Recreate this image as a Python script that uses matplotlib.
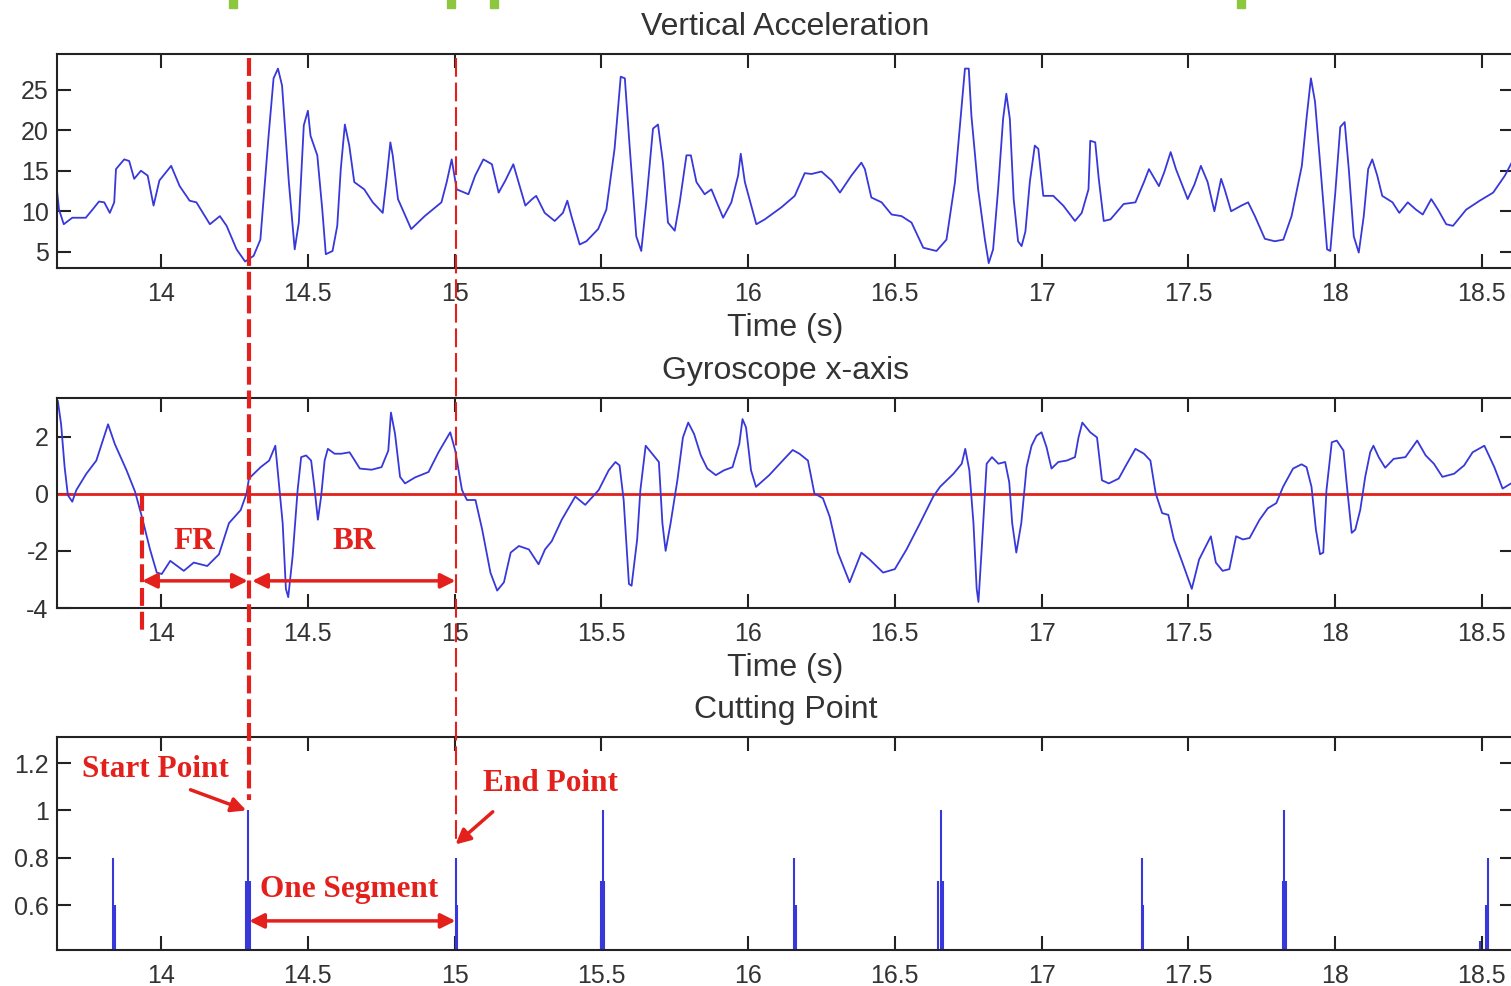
import matplotlib.pyplot as plt
import matplotlib.transforms as mtransforms
from matplotlib.lines import Line2D
from matplotlib.patches import Rectangle

plt.rcParams["font.family"] = ["Liberation Sans", "DejaVu Sans"]
plt.rcParams["axes.unicode_minus"] = False

# vertical acceleration (time in s, value)
acc_t = [13.642, 13.652, 13.668, 13.697, 13.743, 13.766, 13.788, 13.806, 13.825, 13.840,
         13.846, 13.874, 13.891, 13.908, 13.931, 13.954, 13.974, 13.994, 14.034, 14.063,
         14.097, 14.120, 14.166, 14.200, 14.223, 14.257, 14.286, 14.315, 14.338, 14.366,
         14.383, 14.398, 14.412, 14.435, 14.455, 14.469, 14.486, 14.500, 14.509, 14.532,
         14.549, 14.561, 14.584, 14.600, 14.612, 14.626, 14.641, 14.658, 14.692, 14.721,
         14.755, 14.767, 14.781, 14.789, 14.807, 14.852, 14.898, 14.955, 14.973, 14.990,
         15.007, 15.047, 15.070, 15.098, 15.127, 15.150, 15.173, 15.200, 15.241, 15.264,
         15.278, 15.307, 15.341, 15.369, 15.384, 15.398, 15.426, 15.449, 15.489, 15.517,
         15.545, 15.566, 15.580, 15.597, 15.619, 15.636, 15.653, 15.676, 15.693, 15.710,
         15.727, 15.750, 15.767, 15.790, 15.805, 15.824, 15.852, 15.875, 15.915, 15.943,
         15.966, 15.975, 15.989, 16.028, 16.057, 16.114, 16.159, 16.193, 16.216, 16.250,
         16.284, 16.313, 16.352, 16.386, 16.398, 16.420, 16.455, 16.489, 16.523, 16.557,
         16.597, 16.642, 16.676, 16.705, 16.727, 16.739, 16.752, 16.761, 16.784, 16.807,
         16.820, 16.835, 16.852, 16.869, 16.880, 16.892, 16.905, 16.920, 16.932, 16.945,
         16.960, 16.977, 16.989, 17.006, 17.040, 17.074, 17.114, 17.137, 17.160, 17.166,
         17.183, 17.195, 17.212, 17.235, 17.280, 17.320, 17.349, 17.366, 17.400, 17.418,
         17.440, 17.458, 17.498, 17.521, 17.543, 17.566, 17.589, 17.612, 17.624, 17.646,
         17.681, 17.704, 17.727, 17.761, 17.795, 17.824, 17.852, 17.887, 17.904, 17.918,
         17.932, 17.950, 17.973, 17.984, 18.001, 18.018, 18.033, 18.047, 18.064, 18.081,
         18.098, 18.113, 18.127, 18.144, 18.161, 18.196, 18.219, 18.248, 18.276, 18.299,
         18.328, 18.351, 18.379, 18.402, 18.447, 18.493, 18.539, 18.579, 18.608]
acc_v = [13.5, 10.2, 8.4, 9.2, 9.2, 10.2, 11.2, 11.1, 9.8, 11.1,
         15.2, 16.4, 16.2, 14.0, 15.0, 14.4, 10.7, 13.8, 15.6, 13.1,
         11.3, 11.1, 8.4, 9.4, 8.2, 5.3, 3.8, 4.5, 6.5, 19.3,
         26.4, 27.6, 25.5, 13.6, 5.3, 8.6, 20.6, 22.4, 19.3, 16.9,
         10.2, 4.7, 5.1, 8.2, 15.2, 20.7, 18.1, 13.6, 12.7, 11.1,
         9.8, 13.6, 18.5, 16.9, 11.5, 7.8, 9.4, 11.1, 13.6, 16.4,
         12.7, 12.1, 14.4, 16.4, 15.8, 12.3, 13.8, 15.8, 10.7, 11.5,
         11.9, 9.8, 8.8, 9.8, 11.3, 9.4, 5.9, 6.3, 7.8, 10.2,
         17.7, 26.6, 26.4, 17.7, 6.9, 5.1, 11.1, 20.2, 20.7, 16.0,
         8.6, 7.6, 11.1, 16.9, 16.9, 13.6, 12.1, 12.7, 9.2, 11.1,
         14.4, 17.1, 13.6, 8.4, 9.0, 10.5, 11.9, 14.7, 14.6, 14.9,
         13.8, 12.3, 14.4, 16.0, 15.2, 11.7, 11.1, 9.6, 9.4, 8.6,
         5.5, 5.1, 6.5, 13.6, 22.6, 27.6, 27.6, 21.8, 12.7, 6.5,
         3.6, 5.3, 12.7, 21.4, 24.5, 21.4, 11.5, 6.3, 5.7, 7.5,
         13.6, 18.1, 17.7, 11.9, 11.9, 10.7, 8.8, 9.8, 12.7, 18.7,
         18.5, 14.0, 8.8, 9.0, 10.9, 11.1, 13.6, 15.2, 13.1, 14.8,
         17.3, 15.2, 11.5, 13.3, 15.6, 13.6, 10.0, 14.0, 12.7, 10.0,
         10.7, 11.1, 9.4, 6.6, 6.3, 6.5, 9.4, 15.6, 21.8, 26.4,
         23.5, 15.6, 5.3, 5.1, 12.3, 20.4, 21.0, 15.2, 6.9, 4.9,
         9.4, 15.2, 16.4, 14.4, 11.9, 11.1, 9.8, 11.1, 10.2, 9.6,
         11.5, 10.2, 8.4, 8.2, 10.2, 11.3, 12.3, 14.4, 16.4]

# gyroscope x-axis
gyro_t = [13.648, 13.659, 13.671, 13.682, 13.697, 13.711, 13.745, 13.779, 13.819, 13.842,
          13.882, 13.911, 13.934, 13.962, 13.985, 14.002, 14.031, 14.077, 14.111, 14.157,
          14.197, 14.231, 14.271, 14.291, 14.299, 14.339, 14.368, 14.389, 14.397, 14.414,
          14.425, 14.433, 14.448, 14.465, 14.477, 14.494, 14.511, 14.522, 14.534, 14.545,
          14.557, 14.568, 14.591, 14.614, 14.642, 14.677, 14.717, 14.751, 14.774, 14.783,
          14.797, 14.814, 14.831, 14.865, 14.911, 14.945, 14.985, 15.002, 15.025, 15.042,
          15.071, 15.094, 15.122, 15.145, 15.168, 15.191, 15.219, 15.253, 15.286, 15.308,
          15.331, 15.365, 15.411, 15.445, 15.491, 15.525, 15.548, 15.562, 15.576, 15.594,
          15.603, 15.622, 15.633, 15.651, 15.673, 15.696, 15.708, 15.719, 15.736, 15.759,
          15.778, 15.796, 15.816, 15.839, 15.861, 15.890, 15.918, 15.947, 15.970, 15.981,
          15.993, 16.010, 16.027, 16.072, 16.118, 16.152, 16.175, 16.204, 16.226, 16.255,
          16.278, 16.306, 16.346, 16.386, 16.414, 16.460, 16.500, 16.540, 16.586, 16.631,
          16.654, 16.700, 16.728, 16.740, 16.754, 16.768, 16.779, 16.785, 16.796, 16.813,
          16.831, 16.853, 16.876, 16.890, 16.900, 16.914, 16.931, 16.949, 16.966, 16.983,
          17.000, 17.017, 17.034, 17.057, 17.086, 17.114, 17.126, 17.139, 17.166, 17.189,
          17.206, 17.229, 17.263, 17.291, 17.320, 17.349, 17.371, 17.389, 17.411, 17.432,
          17.451, 17.480, 17.512, 17.537, 17.577, 17.594, 17.617, 17.640, 17.663, 17.686,
          17.709, 17.743, 17.771, 17.800, 17.823, 17.857, 17.886, 17.903, 17.920, 17.935,
          17.949, 17.960, 17.971, 17.989, 18.006, 18.029, 18.042, 18.057, 18.069, 18.086,
          18.103, 18.120, 18.131, 18.149, 18.171, 18.200, 18.240, 18.280, 18.309, 18.337,
          18.366, 18.406, 18.440, 18.469, 18.509, 18.543, 18.571, 18.600]
gyro_v = [3.24, 2.43, 0.93, -0.05, -0.28, 0.13, 0.70, 1.16, 2.43, 1.74,
          0.82, 0.07, -0.80, -1.95, -2.76, -2.81, -2.35, -2.70, -2.41, -2.53,
          -2.12, -1.03, -0.57, 0.01, 0.53, 0.93, 1.16, 1.68, 0.82, -1.03,
          -3.33, -3.62, -2.18, 0.13, 1.28, 1.34, 1.16, 0.24, -0.91, -0.10,
          1.16, 1.57, 1.40, 1.40, 1.45, 0.88, 0.84, 0.93, 1.51, 2.84,
          2.09, 0.59, 0.36, 0.57, 0.76, 1.45, 2.15, 1.51, 0.13, -0.22,
          -0.22, -1.26, -2.76, -3.39, -3.10, -2.06, -1.83, -1.95, -2.47, -1.95,
          -1.66, -0.91, -0.10, -0.39, 0.13, 0.82, 1.11, 0.99, -0.22, -3.16,
          -3.22, -1.60, 0.13, 1.68, 1.40, 1.11, -1.03, -2.00, -1.03, 0.47,
          1.97, 2.49, 2.09, 1.34, 0.88, 0.65, 0.82, 0.93, 1.74, 2.61,
          2.32, 0.82, 0.24, 0.65, 1.16, 1.53, 1.40, 1.16, 0.01, -0.16,
          -0.80, -2.06, -3.10, -2.06, -2.30, -2.76, -2.64, -1.95, -1.03, -0.10,
          0.24, 0.70, 1.05, 1.57, 0.82, -1.03, -3.33, -3.79, -1.95, 1.05,
          1.28, 1.05, 1.11, 0.40, -1.03, -2.06, -1.03, 0.93, 1.68, 2.03,
          2.15, 1.63, 0.88, 1.11, 1.16, 1.28, 1.97, 2.49, 2.15, 1.97,
          0.47, 0.36, 0.53, 1.05, 1.57, 1.40, 1.16, 0.01, -0.68, -0.74,
          -1.60, -2.41, -3.33, -2.30, -1.49, -2.41, -2.70, -2.64, -1.49, -1.60,
          -1.55, -0.91, -0.51, -0.33, 0.24, 0.88, 1.03, 0.93, 0.24, -1.26,
          -2.12, -2.06, 0.13, 1.80, 1.86, 1.51, 0.13, -1.37, -1.26, -0.57,
          0.59, 1.45, 1.68, 1.28, 0.91, 1.22, 1.28, 1.86, 1.34, 1.05,
          0.59, 0.70, 0.99, 1.45, 1.68, 0.93, 0.18, 0.36]

# cutting points
cut_t = [13.836, 13.841, 14.290, 14.297, 14.304, 15.003, 15.007, 15.500, 15.504, 15.509,
         16.158, 16.163, 16.648, 16.656, 16.664, 17.343, 17.347, 17.822, 17.827, 17.833,
         18.495, 18.515, 18.523]
cut_h = [0.8, 0.6, 0.7, 1.0, 0.7, 0.8, 0.6, 0.7, 1.0, 0.7,
         0.8, 0.6, 0.7, 1.0, 0.7, 0.8, 0.6, 0.7, 1.0, 0.7,
         0.45, 0.6, 0.8]

x_ticks = [14, 14.5, 15, 15.5, 16, 16.5, 17, 17.5, 18, 18.5]
acc_ticks = [5, 10, 15, 20, 25]
gyro_ticks = [-4, -2, 0, 2]
cut_ticks = [0.6, 0.8, 1.0, 1.2]

start_t = 14.30
end_t = 15.003
fr_t = 13.935

blue = "#3838da"
red = "#e3201b"
grey = "#333333"

W, H = 1511, 986
fig = plt.figure(figsize=(W / 100, H / 100), dpi=100)


def box(top, bottom):
    return [57 / W, 1 - bottom / H, (1514 - 57) / W, (bottom - top) / H]


def style(ax, yticks, ylim):
    ax.set_xlim(13.645, 18.61)
    ax.set_ylim(*ylim)
    ax.set_xticks(x_ticks)
    ax.set_xticklabels(["%g" % v for v in x_ticks])
    ax.set_yticks(yticks)
    ax.set_yticklabels(["%g" % v for v in yticks])
    ax.tick_params(direction="in", length=10, width=1.5, top=True, right=True,
                   labelsize=18, labelcolor=grey, color="#222222")
    ax.tick_params(axis="x", pad=10)
    ax.tick_params(axis="y", pad=6)
    for s in ax.spines.values():
        s.set_linewidth(1.5)
        s.set_color("#222222")


ax1 = fig.add_axes(box(54, 268))
ax1.plot(acc_t, acc_v, color=blue, lw=1.3)
style(ax1, acc_ticks, (3.0, 29.4))
ax1.set_title("Vertical Acceleration", fontsize=23, color=grey, pad=14)
ax1.set_xlabel("Time (s)", fontsize=23, color=grey, labelpad=5)

ax2 = fig.add_axes(box(398, 608))
ax2.axhline(0, color=red, lw=2)
ax2.plot(gyro_t, gyro_v, color=blue, lw=1.3)
style(ax2, gyro_ticks, (-4.0, 3.35))
ax2.set_title("Gyroscope x-axis", fontsize=23, color=grey, pad=14)
ax2.set_xlabel("Time (s)", fontsize=23, color=grey, labelpad=5)

ax3 = fig.add_axes(box(737, 950))
ax3.vlines(cut_t, 0, cut_h, color=blue, lw=1.5)
style(ax3, cut_ticks, (0.41, 1.31))
ax3.set_title("Cutting Point", fontsize=23, color=grey, pad=14)

serif = dict(color=red, fontsize=22.5, fontweight="bold", family="Liberation Serif",
             ha="center", va="center")
dbl = dict(arrowstyle="<|-|>", color=red, lw=2.5, mutation_scale=22, shrinkA=0, shrinkB=0)
one = dict(arrowstyle="-|>", color=red, lw=2.5, mutation_scale=22, shrinkA=0, shrinkB=0)

ax2.annotate("", xy=(start_t - 0.005, -3.05), xytext=(fr_t, -3.05), arrowprops=dbl)
ax2.annotate("", xy=(end_t, -3.05), xytext=(start_t + 0.01, -3.05), arrowprops=dbl)
ax2.text(14.112, -1.68, "FR", **serif)
ax2.text(14.656, -1.68, "BR", **serif)

ax3.annotate("", xy=(14.29, 1.0), xytext=(14.10, 1.087), arrowprops=one)
ax3.annotate("", xy=(15.003, 0.856), xytext=(15.13, 0.994), arrowprops=one)
ax3.annotate("", xy=(end_t, 0.533), xytext=(start_t, 0.533), arrowprops=dbl)
ax3.text(13.98, 1.171, "Start Point", **serif)
ax3.text(15.325, 1.112, "End Point", **serif)
ax3.text(14.64, 0.667, "One Segment", **serif)

# dashed guide lines running across the panels
trans = mtransforms.blended_transform_factory(ax1.transData, fig.transFigure)
fig.add_artist(Line2D([start_t, start_t], [1 - 58 / H, 1 - 800 / H], transform=trans,
                      color=red, lw=3, dashes=(4.3, 1.4)))
fig.add_artist(Line2D([end_t, end_t], [1 - 58 / H, 1 - 840 / H], transform=trans,
                      color=red, lw=1.5, dashes=(9, 2.8)))
fig.add_artist(Line2D([fr_t, fr_t], [1 - 493 / H, 1 - 630 / H], transform=trans,
                      color=red, lw=3, dashes=(4.3, 1.4)))

# small green marks along the top edge of the scan
for gx in [229, 447, 490, 1237]:
    fig.add_artist(Rectangle((gx / W, 1 - 8 / H), 8 / W, 8 / H, transform=fig.transFigure,
                             color="#8dc63f"))

fig.savefig("out.png", dpi=100)
